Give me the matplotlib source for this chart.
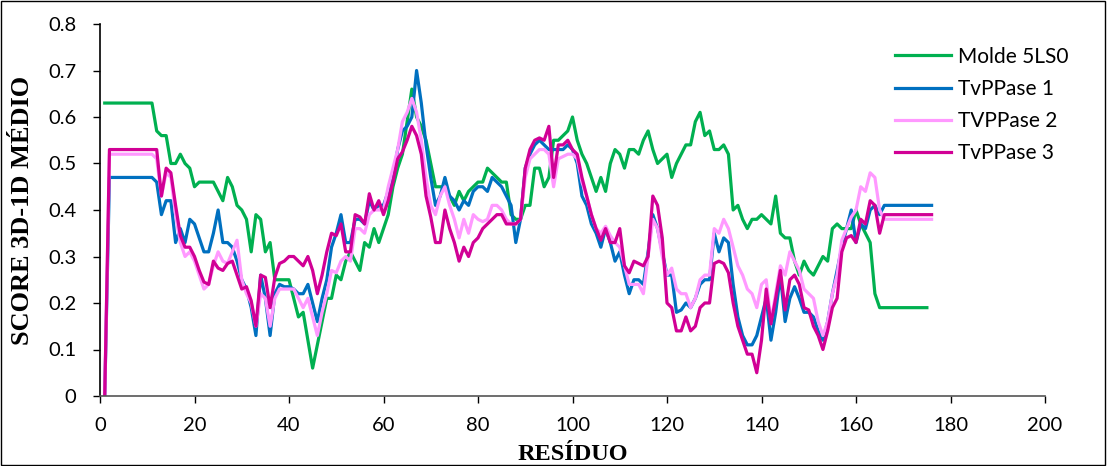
import matplotlib
matplotlib.use("Agg")
import matplotlib.pyplot as plt
from matplotlib.patches import Rectangle

# valores, um por resíduo
molde = [0.63] * 11 + [
    0.57, 0.56, 0.56, 0.50, 0.50, 0.52, 0.50, 0.49, 0.45, 0.46,   # 12-21
    0.46, 0.46, 0.46, 0.44, 0.42, 0.47, 0.45, 0.41, 0.40, 0.38,   # 22-31
    0.31, 0.39, 0.38, 0.31, 0.33, 0.25, 0.25, 0.25, 0.25, 0.21,   # 32-41
    0.17, 0.18, 0.12, 0.06, 0.11, 0.16, 0.21, 0.21, 0.26, 0.25,   # 42-51
    0.29, 0.31, 0.29, 0.27, 0.33, 0.32, 0.36, 0.33, 0.36, 0.39,   # 52-61
    0.45, 0.49, 0.52, 0.59, 0.66, 0.60, 0.58, 0.55, 0.50, 0.45,   # 62-71
    0.45, 0.45, 0.43, 0.41, 0.44, 0.42, 0.44, 0.45, 0.46, 0.46,   # 72-81
    0.49, 0.48, 0.47, 0.46, 0.46, 0.39, 0.38, 0.38, 0.41, 0.41,   # 82-91
    0.49, 0.49, 0.45, 0.47, 0.55, 0.55, 0.56, 0.57, 0.60, 0.55,   # 92-101
    0.52, 0.50, 0.47, 0.44, 0.47, 0.44, 0.50, 0.53, 0.52, 0.49,   # 102-111
    0.53, 0.53, 0.52, 0.55, 0.57, 0.53, 0.50, 0.51, 0.52, 0.47,   # 112-121
    0.50, 0.52, 0.54, 0.54, 0.59, 0.61, 0.56, 0.57, 0.53, 0.53,   # 122-131
    0.54, 0.52, 0.40, 0.41, 0.38, 0.36, 0.38, 0.38, 0.39, 0.38,   # 132-141
    0.37, 0.43, 0.35, 0.34, 0.34, 0.29, 0.26, 0.29, 0.27, 0.26,   # 142-151
    0.28, 0.30, 0.29, 0.36, 0.37, 0.36, 0.36, 0.36, 0.40, 0.37,   # 152-161
    0.35, 0.33, 0.22, 0.19] + [0.19] * 10                         # 162-175

tvppase1 = [0.0] + [0.47] * 10 + [
    0.46, 0.39, 0.42, 0.42, 0.33, 0.36, 0.33, 0.38, 0.37, 0.34,   # 12-21
    0.31, 0.31, 0.35, 0.40, 0.33, 0.33, 0.32, 0.29, 0.25, 0.23,   # 22-31
    0.19, 0.13, 0.26, 0.21, 0.13, 0.22, 0.24, 0.235, 0.235, 0.23, # 32-41
    0.22, 0.22, 0.24, 0.20, 0.16, 0.21, 0.25, 0.32, 0.35, 0.39,   # 42-51
    0.33, 0.33, 0.38, 0.38, 0.37, 0.42, 0.40, 0.41, 0.41, 0.44,   # 52-61
    0.47, 0.53, 0.57, 0.58, 0.60, 0.70, 0.63, 0.54, 0.47, 0.41,   # 62-71
    0.43, 0.47, 0.43, 0.42, 0.40, 0.42, 0.41, 0.44, 0.45, 0.45,   # 72-81
    0.44, 0.47, 0.46, 0.45, 0.43, 0.41, 0.33, 0.38, 0.49, 0.52,   # 82-91
    0.54, 0.55, 0.54, 0.53, 0.53, 0.53, 0.53, 0.54, 0.53, 0.50,   # 92-101
    0.43, 0.41, 0.37, 0.35, 0.32, 0.36, 0.33, 0.29, 0.31, 0.26,   # 102-111
    0.22, 0.25, 0.25, 0.24, 0.31, 0.39, 0.36, 0.31, 0.26, 0.26,   # 112-121
    0.18, 0.185, 0.20, 0.19, 0.21, 0.24, 0.25, 0.25, 0.35, 0.31,  # 122-131
    0.34, 0.33, 0.24, 0.17, 0.13, 0.11, 0.11, 0.13, 0.17, 0.21,   # 132-141
    0.12, 0.18, 0.26, 0.16, 0.21, 0.235, 0.21, 0.18, 0.18, 0.17,  # 142-151
    0.14, 0.12, 0.16, 0.22, 0.27, 0.32, 0.36, 0.40, 0.33, 0.37,   # 152-161
    0.36, 0.40, 0.41, 0.39] + [0.41] * 11                         # 162-176

tvppase2 = [0.0] + [0.52] * 10 + [
    0.51, 0.43, 0.48, 0.47, 0.39, 0.33, 0.30, 0.31, 0.29, 0.26,   # 12-21
    0.23, 0.24, 0.28, 0.31, 0.29, 0.285, 0.31, 0.335, 0.25, 0.22, # 22-31
    0.20, 0.15, 0.22, 0.21, 0.15, 0.21, 0.23, 0.23, 0.23, 0.23,   # 32-41
    0.21, 0.19, 0.21, 0.17, 0.13, 0.18, 0.22, 0.27, 0.265, 0.29,  # 42-51
    0.30, 0.29, 0.36, 0.36, 0.35, 0.39, 0.40, 0.40, 0.40, 0.45,   # 52-61
    0.49, 0.53, 0.59, 0.61, 0.64, 0.61, 0.55, 0.47, 0.41, 0.39,   # 62-71
    0.43, 0.45, 0.41, 0.38, 0.34, 0.38, 0.35, 0.39, 0.38, 0.375,  # 72-81
    0.38, 0.41, 0.41, 0.40, 0.38, 0.37, 0.37, 0.38, 0.47, 0.51,   # 82-91
    0.52, 0.53, 0.53, 0.52, 0.45, 0.51, 0.515, 0.52, 0.52, 0.51,  # 92-101
    0.46, 0.43, 0.39, 0.36, 0.35, 0.365, 0.345, 0.33, 0.32, 0.28, # 102-111
    0.24, 0.24, 0.24, 0.22, 0.30, 0.38, 0.36, 0.30, 0.26, 0.275,  # 112-121
    0.23, 0.22, 0.22, 0.19, 0.21, 0.25, 0.26, 0.26, 0.36, 0.35,   # 122-131
    0.38, 0.36, 0.32, 0.28, 0.26, 0.23, 0.22, 0.19, 0.24, 0.25,   # 132-141
    0.16, 0.22, 0.28, 0.26, 0.31, 0.29, 0.27, 0.23, 0.22, 0.21,   # 142-151
    0.16, 0.13, 0.16, 0.22, 0.26, 0.335, 0.36, 0.385, 0.40, 0.45, # 152-161
    0.44, 0.48, 0.47, 0.40] + [0.38] * 11                         # 162-176

tvppase3 = [0.0] + [0.53] * 11 + [
    0.43, 0.49, 0.48, 0.41, 0.345, 0.32, 0.32, 0.30, 0.27,        # 13-21
    0.245, 0.24, 0.29, 0.275, 0.27, 0.285, 0.29, 0.26, 0.23, 0.235,  # 22-31
    0.205, 0.15, 0.26, 0.255, 0.19, 0.255, 0.285, 0.29, 0.30, 0.30,  # 32-41
    0.29, 0.28, 0.30, 0.27, 0.22, 0.26, 0.31, 0.35, 0.345, 0.37,  # 42-51
    0.31, 0.31, 0.39, 0.385, 0.37, 0.435, 0.40, 0.42, 0.39, 0.42, # 52-61
    0.46, 0.51, 0.525, 0.55, 0.58, 0.56, 0.52, 0.43, 0.385, 0.33, # 62-71
    0.33, 0.40, 0.36, 0.33, 0.29, 0.32, 0.30, 0.33, 0.34, 0.36,   # 72-81
    0.37, 0.38, 0.39, 0.39, 0.37, 0.37, 0.37, 0.38, 0.49, 0.53,   # 82-91
    0.55, 0.555, 0.55, 0.58, 0.47, 0.54, 0.54, 0.55, 0.53, 0.52,  # 92-101
    0.47, 0.43, 0.39, 0.36, 0.335, 0.36, 0.33, 0.33, 0.36, 0.28,  # 102-111
    0.265, 0.29, 0.285, 0.28, 0.30, 0.43, 0.41, 0.34, 0.20, 0.19, # 112-121
    0.14, 0.14, 0.17, 0.14, 0.15, 0.19, 0.20, 0.20, 0.285, 0.29,  # 122-131
    0.285, 0.265, 0.20, 0.15, 0.12, 0.09, 0.09, 0.05, 0.12, 0.23, # 132-141
    0.155, 0.21, 0.27, 0.185, 0.25, 0.26, 0.24, 0.19, 0.185, 0.15,  # 142-151
    0.13, 0.10, 0.14, 0.19, 0.21, 0.31, 0.34, 0.345, 0.33, 0.38,  # 152-161
    0.37, 0.42, 0.41, 0.35] + [0.39] * 11                         # 162-176

nomes = ["Molde 5LS0", "TvPPase 1", "TVPPase 2", "TvPPase 3"]
cores = ["#00B050", "#0070C0", "#FF99FF", "#D10095"]
series = [molde, tvppase1, tvppase2, tvppase3]

fig = plt.figure(figsize=(11.07, 4.66), dpi=100)
ax = fig.add_axes([100 / 1107, 1 - 396 / 466, 945 / 1107, 372 / 466])

for dados, nome, cor in zip(series, nomes, cores):
    residuos = list(range(1, len(dados) + 1))
    ax.plot(residuos, dados, color=cor, lw=2.3, label=nome)

ax.set_xlim(0, 200)
ax.set_ylim(0, 0.8)
ax.set_xticks(range(0, 201, 20))
ax.set_yticks([i / 10 for i in range(9)])
ax.set_yticklabels(["0"] + ["%.1f" % (i / 10) for i in range(1, 9)])
ax.tick_params(direction="out", length=5, width=1, labelsize=14.5, colors="black")
ax.tick_params(axis="y", pad=12)
ax.tick_params(axis="x", pad=10)
for t in ax.get_xticklabels() + ax.get_yticklabels():
    t.set_family("Lato")
ax.spines["top"].set_visible(False)
ax.spines["right"].set_visible(False)
ax.spines["left"].set_linewidth(1.2)
ax.spines["bottom"].set_color("#555555")
ax.spines["bottom"].set_linewidth(1.2)

ax.set_xlabel("RESÍDUO", family="Liberation Serif", fontweight="bold", fontsize=17.5, labelpad=7)
ax.set_ylabel("SCORE 3D-1D MÉDIO", family="Liberation Serif", fontweight="bold", fontsize=19, labelpad=10)

fig.legend(loc="upper left", bbox_to_anchor=(876 / 1107, 1 - 28 / 466), frameon=False,
           prop={"family": "Lato", "size": 15}, handlelength=2.7, handletextpad=0.35,
           labelspacing=0.58)

# moldura externa
fig.patches.append(Rectangle((0.001, 0.002), 0.997, 0.996, transform=fig.transFigure,
                             fill=False, edgecolor="black", lw=1))

fig.savefig("out.png", dpi=100)
